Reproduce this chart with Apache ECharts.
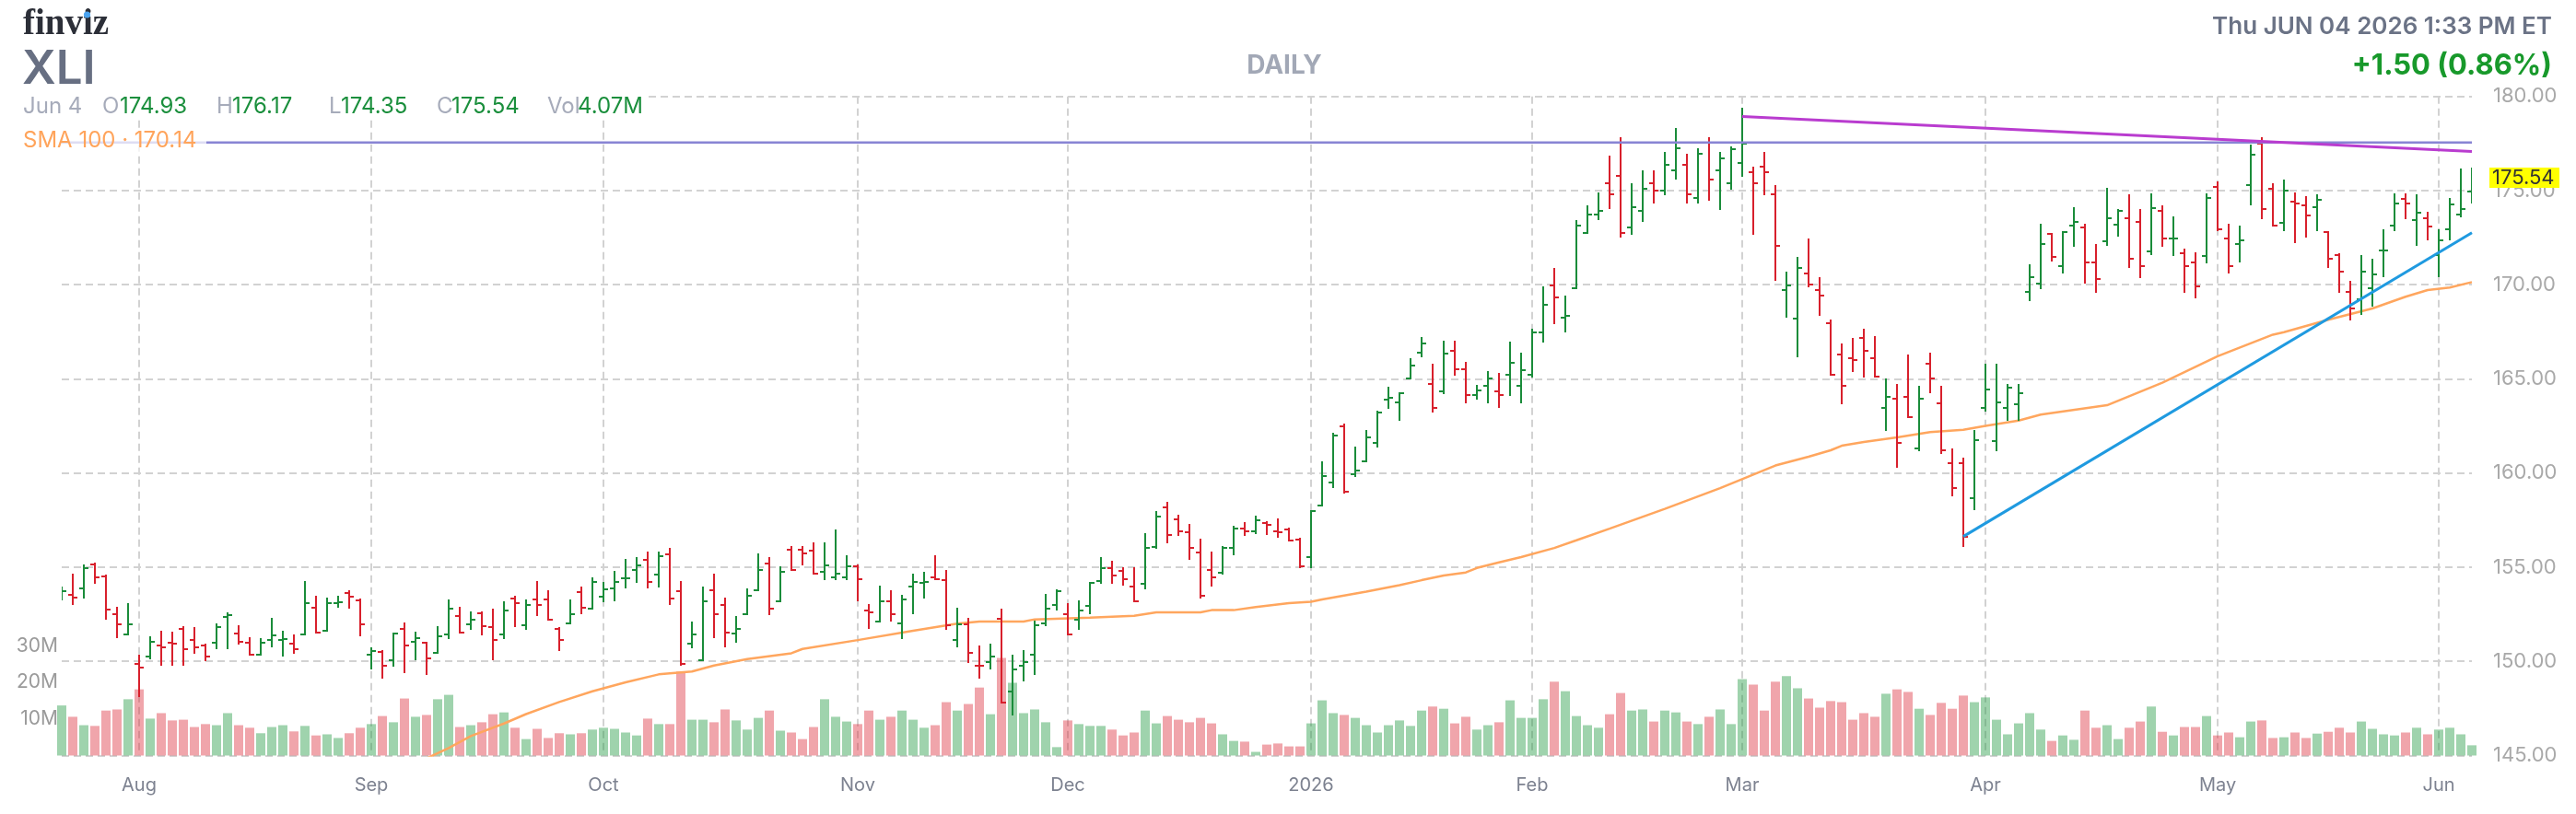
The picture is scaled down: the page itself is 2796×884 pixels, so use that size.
<!DOCTYPE html>
<html><head><meta charset="utf-8">
<script src="https://cdn.jsdelivr.net/npm/echarts@6/dist/echarts.min.js"></script>
<style>html,body{margin:0;padding:0;background:#fff}#c{width:2796px;height:884px}</style>
</head><body><div id="c"></div>
<script>
// ---------- DATA ----------
const holidays = ['2025-09-01','2025-11-27','2025-12-25','2026-01-01','2026-01-19','2026-02-16','2026-04-03','2026-05-25'];
const firstDay = '2025-07-23', lastDay = '2026-06-04';
const monthLabels = {'01':'2026','02':'Feb','03':'Mar','04':'Apr','05':'May','06':'Jun','07':'Jul','08':'Aug','09':'Sep','10':'Oct','11':'Nov','12':'Dec'};
const priceTicks = [145,150,155,160,165,170,175,180];
const volTicks = [10,20,30];

const open = [153.50,153.53,153.89,155.13,154.51,152.52,151.44,149.86,150.27,150.86,
151.00,151.74,151.13,150.86,150.97,152.36,151.46,150.97,150.35,151.13,
151.13,150.92,151.44,152.85,151.64,153.09,153.63,153.22,150.35,150.51,
150.08,151.74,151.05,150.97,150.45,151.44,152.42,151.95,152.55,151.84,
151.44,153.34,151.93,153.30,153.30,151.74,152.03,153.69,152.81,153.42,
153.87,154.39,154.85,155.37,154.59,155.70,153.71,150.96,150.08,153.79,
153.01,151.46,152.52,153.79,155.18,153.20,155.94,155.94,155.86,154.77,
154.48,154.44,155.05,152.72,152.11,153.20,152.03,153.99,154.18,154.44,
154.31,151.13,151.95,149.78,149.96,152.28,148.41,149.78,150.37,152.03,
153.01,152.52,152.23,152.93,154.28,154.97,154.80,153.99,154.10,156.06,
158.19,157.52,156.84,155.76,154.85,154.69,156.04,157.05,156.92,157.33,
156.92,157.00,156.46,155.54,158.27,159.48,162.46,159.95,160.64,161.62,
163.88,163.77,165.02,166.41,164.75,164.34,166.51,165.53,164.16,164.65,
164.34,165.23,164.65,165.20,167.48,169.95,168.27,169.81,172.75,173.73,
175.41,175.80,173.04,173.94,175.41,175.02,176.09,176.38,174.62,177.56,
176.09,175.41,176.48,175.98,176.29,174.82,169.73,168.19,170.59,169.72,
167.97,166.30,166.11,167.19,166.11,163.47,163.96,164.06,161.32,165.82,
163.69,160.54,160.54,158.68,163.47,161.70,163.47,163.67,169.63,170.06,
172.68,170.99,173.16,173.06,171.20,172.29,173.19,173.55,173.35,171.75,
173.92,172.45,171.67,171.20,171.51,175.19,172.45,172.18,175.31,177.47,
175.11,173.27,174.41,174.22,174.13,172.78,171.59,169.63,169.23,169.81,
171.80,173.16,174.57,173.43,173.55,171.59,172.94,173.73,174.93];

const high = [153.90,154.61,155.10,155.18,154.56,152.85,153.04,150.30,151.27,151.58,
151.54,151.84,151.75,150.89,151.95,152.55,151.87,151.25,151.18,152.24,
151.58,151.38,154.23,153.42,153.34,153.42,153.73,153.30,150.69,150.56,
151.49,152.03,151.54,150.97,151.84,153.22,152.85,152.60,152.60,152.73,
153.12,153.42,153.22,154.23,153.74,151.76,153.22,153.91,154.39,154.18,
154.77,155.37,155.49,155.78,155.78,155.98,154.23,152.06,153.91,154.59,
153.34,152.36,153.82,155.70,155.49,155.00,156.07,156.07,156.27,156.27,
156.95,155.57,155.08,153.01,153.99,153.71,153.50,154.59,154.69,155.58,
154.80,152.81,152.24,150.78,150.89,152.77,150.29,150.56,152.11,153.53,
153.79,153.04,153.20,154.18,155.49,155.29,154.97,154.97,156.76,157.93,
158.42,157.74,157.25,156.47,155.78,156.07,157.13,157.33,157.70,157.41,
157.54,157.05,156.51,157.99,160.56,162.10,162.59,161.35,162.22,163.25,
164.55,164.26,166.05,167.19,165.76,166.99,166.99,165.85,164.63,165.36,
165.27,166.91,166.34,167.60,169.86,170.84,169.38,173.37,174.17,174.85,
176.82,177.80,175.36,176.01,176.01,176.99,178.26,176.91,177.18,177.77,
176.99,177.28,179.35,176.22,176.99,175.23,170.63,171.41,172.39,170.34,
168.09,166.83,167.11,167.60,167.22,164.96,164.66,166.25,164.58,166.34,
164.58,161.24,160.75,162.22,165.76,165.76,164.66,164.66,171.04,173.19,
172.70,172.78,174.05,173.19,172.10,175.11,173.95,174.74,173.95,174.82,
174.17,173.56,171.88,171.69,174.82,175.42,173.19,173.07,177.39,177.78,
175.34,175.55,174.85,174.65,174.74,172.78,171.61,170.14,171.53,171.31,
172.89,174.82,174.82,174.74,173.84,172.89,174.54,176.12,176.17];

const low = [153.30,153.06,153.37,154.15,152.28,151.30,151.41,148.17,150.16,149.83,
149.83,149.83,150.43,150.04,150.69,150.69,150.92,150.35,150.35,150.81,
150.32,150.43,151.41,151.51,151.61,152.88,152.85,151.38,149.62,149.15,
149.75,149.42,150.12,149.34,150.45,151.22,151.51,151.71,151.41,150.12,
151.22,151.87,151.71,152.47,152.20,150.61,152.00,152.57,152.81,153.17,
153.25,153.94,154.23,153.94,153.95,153.06,149.83,150.73,150.08,151.30,
150.81,151.02,152.49,153.79,152.49,153.17,154.84,155.13,154.64,154.35,
154.35,154.35,153.25,151.79,152.11,152.16,151.22,152.55,153.37,154.35,
151.71,150.81,149.95,149.15,149.64,147.79,147.19,148.97,149.34,151.90,
152.76,151.41,151.71,152.57,154.15,154.15,154.07,153.17,153.87,156.03,
156.30,156.71,155.42,153.37,154.04,154.67,155.70,156.73,156.81,156.76,
156.59,156.40,155.02,155.02,158.27,159.24,158.96,159.82,160.64,161.40,
163.44,162.84,165.02,166.18,163.25,164.22,165.20,163.74,163.93,163.74,
163.52,164.13,163.74,165.10,166.96,167.94,167.53,169.81,172.75,173.48,
174.09,172.54,172.72,173.40,174.38,174.79,175.65,174.38,174.38,174.49,
174.00,175.08,175.76,172.72,174.79,170.27,168.32,166.18,169.90,168.41,
165.20,163.72,165.40,165.10,165.12,162.27,160.31,162.95,161.19,164.30,
161.08,158.83,156.11,158.06,163.33,161.19,162.84,162.84,169.19,169.80,
171.26,170.66,172.05,170.09,169.60,172.13,172.62,170.96,170.39,171.64,
172.05,171.56,169.60,169.31,171.18,172.91,170.66,171.23,174.28,173.51,
173.14,172.91,172.24,172.54,172.89,170.96,169.60,168.14,168.43,168.90,
170.47,172.91,173.51,172.13,172.42,170.47,172.42,173.63,174.35];

const close = [153.71,153.40,154.97,154.48,152.73,151.95,151.95,149.68,151.05,150.76,
150.92,150.65,150.76,150.27,151.84,152.44,151.05,150.35,150.97,151.38,
151.17,150.65,153.09,151.54,153.09,153.12,153.42,151.95,150.56,149.78,
151.46,150.86,151.25,150.16,151.35,152.81,151.54,152.19,151.87,151.13,
152.72,153.09,153.01,153.01,152.23,151.15,152.52,152.85,154.20,153.82,
154.23,154.41,155.10,154.20,155.58,153.34,149.86,151.44,153.20,152.52,
151.54,151.74,153.50,154.85,152.81,154.77,154.87,155.75,154.67,155.10,
154.67,155.06,154.36,152.60,153.20,152.52,153.30,154.20,154.22,154.38,
151.90,151.95,150.43,149.76,150.27,147.83,149.59,149.98,151.92,152.80,
153.71,151.43,152.72,154.15,154.97,154.56,154.36,153.20,156.03,157.70,
156.71,156.92,156.04,153.50,154.48,156.03,157.05,156.92,157.49,157.25,
156.84,156.43,155.05,157.98,159.86,162.01,158.99,160.15,161.91,163.20,
163.98,164.26,165.72,166.90,163.47,166.33,165.53,164.16,164.37,165.04,
164.16,165.84,165.45,167.48,168.95,169.33,168.35,173.16,173.73,173.94,
174.82,172.75,174.13,175.11,175.02,176.38,177.26,174.82,176.95,175.60,
176.71,177.18,177.50,175.41,175.99,172.06,169.95,170.91,170.03,169.44,
165.23,164.65,166.02,166.51,165.14,164.06,161.60,162.99,163.96,165.04,
161.21,159.20,156.60,161.73,164.45,163.77,164.55,164.26,170.42,172.18,
171.48,172.78,173.35,171.20,170.30,173.55,173.92,171.40,170.99,174.05,
172.46,172.47,170.99,169.93,174.62,172.94,170.99,172.37,176.89,174.04,
173.16,175.01,174.33,173.68,174.52,171.40,170.71,168.74,170.71,170.53,
171.83,174.33,174.33,173.84,173.11,172.37,174.28,174.04,175.54];

const volumeM = [13.7,10.6,8.3,8.1,12.3,12.6,15.4,18.1,10.1,11.6,
9.6,9.8,7.8,8.6,8.3,11.6,8.3,7.6,6.1,7.8,
8.3,6.6,8.1,5.5,5.8,4.8,6.1,7.6,8.6,10.8,
9.1,15.6,10.6,11.1,15.4,16.6,7.8,8.3,9.1,11.3,
11.8,7.6,4.5,7.3,4.8,6.1,5.8,6.1,7.1,7.6,
7.3,6.3,5.5,10.1,8.6,8.6,23.0,9.8,9.8,9.1,
12.6,9.6,7.1,10.3,12.3,6.8,6.3,4.5,7.8,15.4,
10.6,9.3,8.6,12.3,9.8,10.6,12.3,9.8,7.6,8.3,
14.6,12.3,14.1,18.6,11.3,26.7,19.9,11.6,12.6,9.1,
2.3,9.6,8.6,8.1,8.1,7.1,5.5,6.3,12.3,8.8,
10.8,9.8,9.1,10.3,8.8,5.8,4.0,3.8,1.0,3.0,
3.3,2.5,2.5,8.8,15.1,11.6,11.1,10.3,8.3,6.3,
8.3,9.6,8.1,12.3,13.4,12.8,8.8,10.6,7.1,8.3,
9.1,15.1,10.3,10.3,15.4,20.2,17.6,10.8,8.3,7.6,
11.3,17.1,12.3,12.6,9.3,12.3,11.8,9.3,8.6,10.6,
12.6,8.6,20.9,19.4,12.3,20.2,21.7,18.4,15.6,13.1,
14.9,14.6,9.8,11.6,10.6,16.9,18.1,17.4,12.8,11.1,
14.4,12.8,16.4,14.6,15.9,9.8,5.8,8.8,11.6,7.1,
4.0,5.5,4.3,12.3,7.6,8.3,4.5,7.6,9.3,13.4,
6.5,5.5,7.8,7.8,10.8,5.5,6.3,5.0,9.3,9.6,
4.8,5.0,6.3,4.8,6.0,6.5,7.6,6.3,9.3,7.3,
5.8,5.5,6.3,7.6,5.8,7.1,7.6,5.8,2.8];

// SMA 100: [bar index, value]
const sma100 = [[31,144.45],[33,144.85],[35,145.40],[37,146.03],[40,146.70],[42,147.20],[45,147.84],[48,148.41],
[51,148.89],[54,149.31],[57,149.46],[59,149.78],[62,150.12],[66,150.43],[67,150.66],[72,151.13],[77,151.63],
[81,152.00],[83,152.11],[87,152.11],[88,152.23],[93,152.32],[97,152.42],[99,152.60],[103,152.60],[104,152.72],
[106,152.72],[108,152.88],[111,153.09],[113,153.17],[114,153.29],[118,153.70],[121,154.05],[123,154.31],
[125,154.56],[127,154.72],[128,154.96],[130,155.26],[132,155.54],[135,156.02],[137,156.43],[140,157.05],
[145,158.10],[150,159.20],[155,160.40],[158,160.87],[160,161.21],[161,161.45],[163,161.65],[166,161.89],
[169,162.17],[172,162.30],[174,162.50],[177,162.79],[179,163.10],[185,163.60],[190,164.80],[195,166.20],
[200,167.35],[201,167.48],[205,168.14],[209,168.74],[212,169.36],[214,169.72],[216,169.85],[218,170.14]];

// drawn lines: [index, price]
const hLine = [[0,177.55],[218,177.55]];
const resistLine = [[152,178.93],[218,177.08]];
const supportLine = [[172,156.63],[218,172.76]];

// ---------- BUILD ----------
const dates = (function(){
  const out=[]; let t=Date.parse(firstDay+'T00:00:00Z'); const end=Date.parse(lastDay+'T00:00:00Z');
  while(t<=end){const d=new Date(t);const w=d.getUTCDay();const s=d.toISOString().slice(0,10);
    if(w!==0&&w!==6&&holidays.indexOf(s)<0) out.push(s); t+=86400000;}
  return out;
})();
const N = dates.length;
const isMonthStart = dates.map((d,i)=> i>0 && d.slice(5,7)!==dates[i-1].slice(5,7));

const UP='#1a8c3a', DN='#d8202c';
const VUP='rgba(26,150,60,0.42)', VDN='rgba(220,40,55,0.42)';
const FONT='Inter, Roboto, "Noto Sans", sans-serif';
const GRID='#d2d2d2';

const ohlc = dates.map((d,i)=>[i, open[i], high[i], low[i], close[i]]);
const vols = volumeM.map((v,i)=>({value:v, itemStyle:{color: close[i]>=open[i]?VUP:VDN}}));

const chart = echarts.init(document.getElementById('c'), null, {renderer:'canvas', width:2796, height:884});

function txt(id, x, y, text, font, fill, align){
  return {type:'text', id, x, y, z:101, silent:true,
    style:{text, font, fill, textAlign:align||'left', textVerticalAlign:'middle', verticalAlign:'middle'}};
}
const lab = '400 24px '+FONT, G='#a6abba', V='#1b8f3d';

const option = {
  animation:false,
  backgroundColor:'#ffffff',
  grid:[{left:67,right:113,top:104.7,bottom:63.5},{left:67,right:113,top:661.7,bottom:63.5}],
  xAxis:[
    {type:'category', gridIndex:0, data:dates, boundaryGap:false,
     axisLine:{show:false}, axisTick:{show:false},
     axisLabel:{interval:(i)=>isMonthStart[i], formatter:(v)=>monthLabels[v.slice(5,7)], color:'#7d8290', fontSize:20, margin:22, fontFamily:FONT},
     splitLine:{show:true, interval:(i)=>isMonthStart[i], lineStyle:{color:GRID,width:2,type:[8,5]}}},
    {type:'category', gridIndex:1, data:dates, boundaryGap:false, show:false}
  ],
  yAxis:[
    {type:'value', gridIndex:0, position:'right', min:priceTicks[0], max:priceTicks[priceTicks.length-1], interval:5,
     axisLine:{show:false}, axisTick:{show:false},
     axisLabel:{formatter:(v)=>v.toFixed(2), color:'#a9a9a9', fontSize:22, margin:23, fontFamily:FONT},
     splitLine:{show:true, lineStyle:{color:GRID,width:2,type:[8,5]}}},
    {type:'value', gridIndex:1, position:'left', min:0, max:40, interval:10,
     axisLine:{show:false}, axisTick:{show:false}, splitLine:{show:false},
     axisLabel:{formatter:(v)=>volTicks.indexOf(v)>=0? v+'M':'', color:'#9a9a9a', fontSize:21, margin:4, fontFamily:FONT}}
  ],
  series:[
    {type:'bar', name:'Volume', xAxisIndex:1, yAxisIndex:1, data:vols, barWidth:10, z:1, silent:true},
    {type:'line', name:'SMA 100', xAxisIndex:0, yAxisIndex:0, data:sma100, showSymbol:false, z:3, silent:true,
     lineStyle:{color:'#ffa65e', width:2.5}},
    {type:'line', xAxisIndex:0, yAxisIndex:0, data:hLine, showSymbol:false, z:6, silent:true,
     lineStyle:{color:'#8884d4', width:2.5}},
    {type:'line', xAxisIndex:0, yAxisIndex:0, data:resistLine, showSymbol:false, z:6, silent:true,
     lineStyle:{color:'#b93ccf', width:3}},
    {type:'line', xAxisIndex:0, yAxisIndex:0, data:supportLine, showSymbol:false, z:6, silent:true,
     lineStyle:{color:'#1f9ae0', width:3}},
    {type:'custom', name:'XLI', xAxisIndex:0, yAxisIndex:0, data:ohlc, z:5, clip:true, silent:true,
     encode:{x:0, y:[1,2,3,4]},
     renderItem:function(params, api){
       const i=api.value(0), o=api.value(1), h=api.value(2), l=api.value(3), c=api.value(4);
       const pO=api.coord([i,o]), pH=api.coord([i,h]), pL=api.coord([i,l]), pC=api.coord([i,c]);
       const x=Math.round(pO[0]);
       const col = c>=o?UP:DN;
       const st={stroke:col, lineWidth:2};
       const yo=Math.round(pO[1]), yc=Math.round(pC[1]);
       return {type:'group', children:[
         {type:'line', shape:{x1:x,y1:Math.round(pH[1])-1,x2:x,y2:Math.round(pL[1])+1}, style:st},
         {type:'line', shape:{x1:x-5,y1:yo,x2:x,y2:yo}, style:st},
         {type:'line', shape:{x1:x,y1:yc,x2:x+5,y2:yc}, style:st}
       ]};
     }}
  ]
};
chart.setOption(option);

// header / overlay texts; last-price tag placed through the price axis
const lastY = chart.convertToPixel({yAxisIndex:0}, close[N-1]);
const elements = [
  {type:'rect', id:'bx1', z:100, silent:true, shape:{x:0,y:99,width:704,height:29}, style:{fill:'#ffffff'}},
  {type:'rect', id:'bx2', z:100, silent:true, shape:{x:15,y:142,width:209,height:25}, style:{fill:'rgba(255,255,255,0.72)'}},
  txt('logo', 25, 27, 'finviz', 'bold 39px "Liberation Serif", "DejaVu Serif", serif', '#2c2f38'),
  {type:'circle', id:'dot', z:102, silent:true, shape:{cx:94.5,cy:16,r:3.6}, style:{fill:'#4aa3ef'}},
  txt('tk', 24, 76, 'XLI', '600 51px '+FONT, '#676f82'),
  txt('d', 25, 116, 'Jun 4', lab, G),
  txt('o1', 111, 116, 'O', lab, G), txt('o2', 130, 116, '174.93', lab, V),
  txt('h1', 235, 116, 'H', lab, G), txt('h2', 252, 116, '176.17', lab, V),
  txt('l1', 357, 116, 'L', lab, G), txt('l2', 370, 116, '174.35', lab, V),
  txt('c1', 474, 116, 'C', lab, G), txt('c2', 490, 116, '175.54', lab, V),
  txt('v1', 594, 116, 'Vol', lab, G), txt('v2', 627, 116, '4.07M', lab, V),
  txt('sma', 25, 153, 'SMA 100 \u00b7 170.14', lab, '#ffa45b'),
  txt('daily', 1394, 72, 'DAILY', '700 28px '+FONT, '#a2a8b6', 'center'),
  txt('dt', 2770, 29, 'Thu JUN 04 2026 1:33 PM ET', '600 26px '+FONT, '#6b7386', 'right'),
  txt('chg', 2770, 72, '+1.50 (0.86%)', '700 31px '+FONT, '#18992b', 'right'),
  {type:'rect', id:'ytag', z:100, silent:true, shape:{x:2702,y:lastY-14,width:76,height:22}, style:{fill:'#ffff00'}},
  txt('ytxt', 2705, lastY-3, close[N-1].toFixed(2), '400 22px '+FONT, '#333333')
];
chart.setOption({graphic:{elements}});
</script>
</body></html>
